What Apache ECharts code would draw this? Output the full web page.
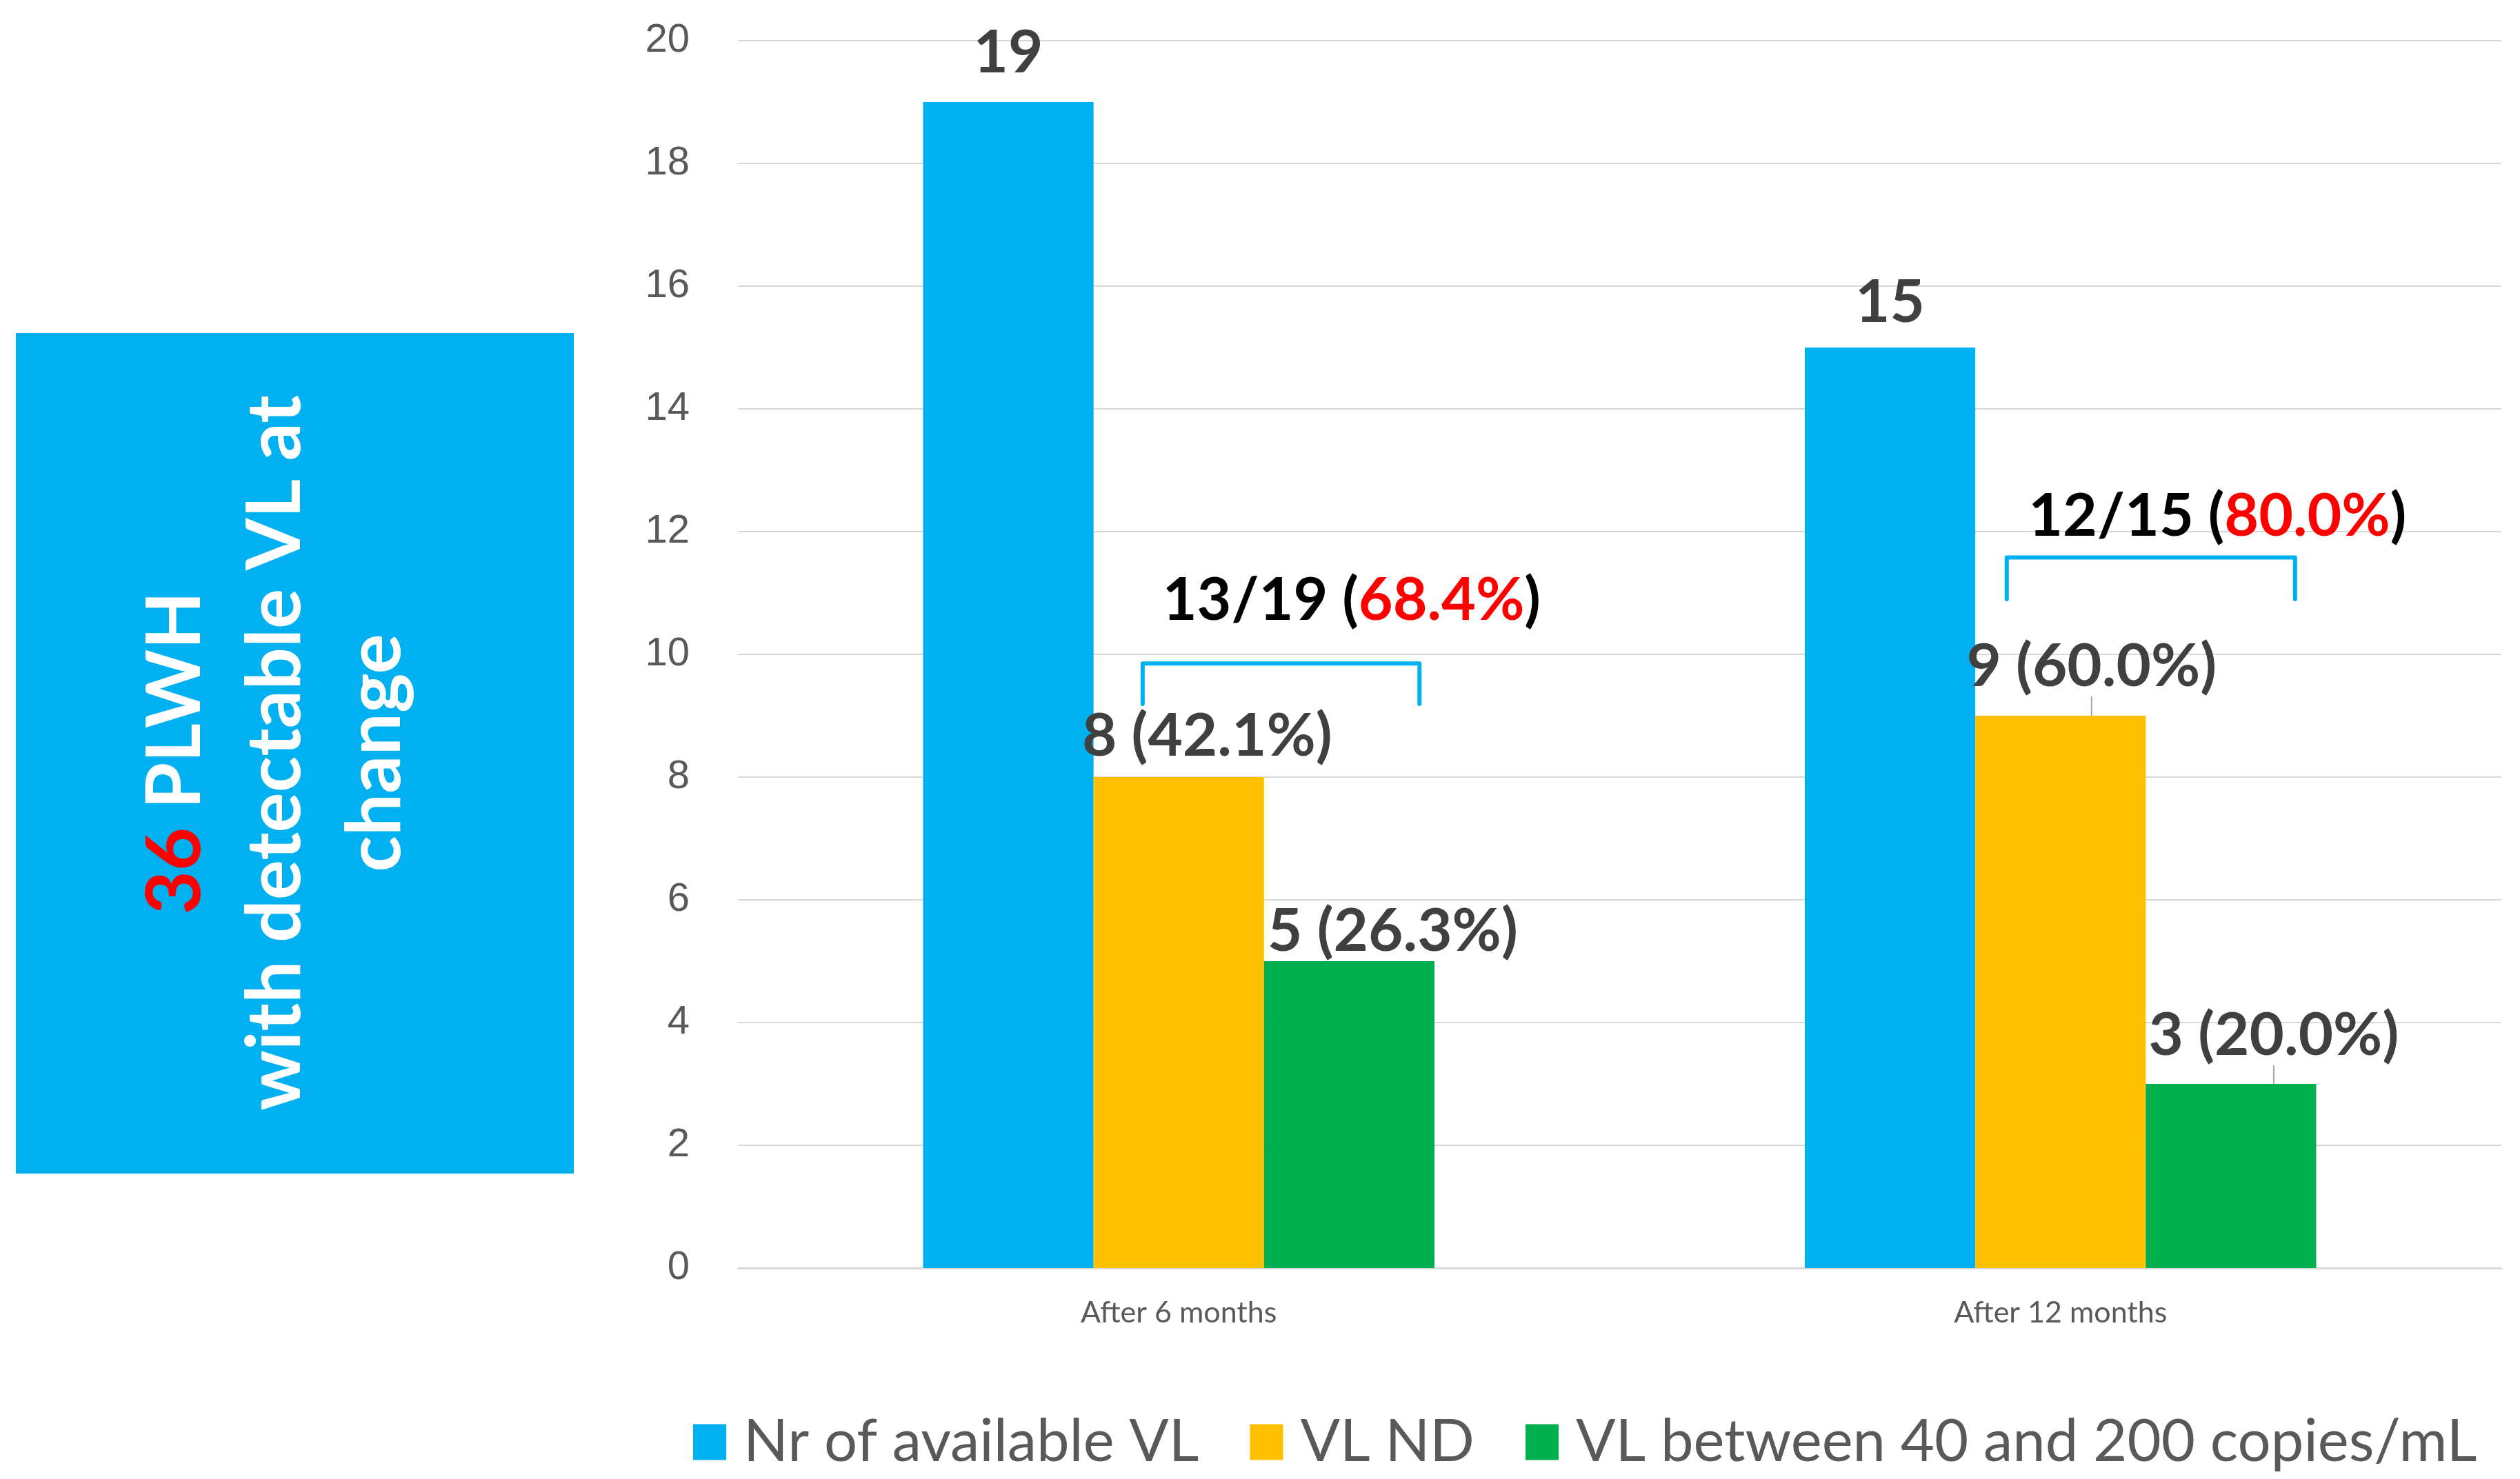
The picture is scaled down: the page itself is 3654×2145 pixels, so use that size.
<!DOCTYPE html>
<html>
<head>
<meta charset="utf-8">
<script src="https://cdn.jsdelivr.net/npm/echarts@6/dist/echarts.min.js"></script>
<style>
  html, body { margin: 0; padding: 0; background: #fff; }
  #chart { width: 3654px; height: 2145px; }
</style>
</head>
<body>
<div id="chart"></div>
<script>
// categories and values
const categories = ['After 6 months', 'After 12 months'];
const seriesNames = ['Nr of available VL', 'VL ND', 'VL between 40 and 200 copies/mL'];
const availableVL = [19, 15];
const ndVL = [8, 9];
const lowVL = [5, 3];
const ndPct = ['42.1%', '60.0%'];
const lowPct = ['26.3%', '20.0%'];
const yTicks = [0, 20, 2]; // min, max, step

// bracket annotations (value units on the y axis)
const bracketTop = [9.85, 11.58];
const bracketFoot = [9.19, 10.9];
const bracketTextAt = [10.87, 12.24];
const bracketRatio = ['13/19', '12/15'];
const bracketPct = ['68.4%', '80.0%'];

// layout tweaks, not data
const bracketSpan = [[-0.041, 0.273, 0.196], [-0.061, 0.266, 0.178]]; // fractions of band width
const labelShift = [
  [[0, -28], [0, -22]],
  [[41, -16], [45, -28]],
  [[63, 0], [62, -27]]
];
const leaderLine = [[false, false], [false, true], [false, true]];

const colors = ['#00b0f0', '#ffc000', '#00b050'];
const labelFont = { fontFamily: 'Lato', fontWeight: 'bold', fontSize: 87, color: '#404040' };

window.onload = function () {
  var chart = echarts.init(document.getElementById('chart'));

  const barData = (vals, s) => vals.map((v, i) => ({
    value: v,
    labelLine: { show: leaderLine[s][i] }
  }));

  const barSeries = (name, vals, s, fmt) => ({
    name: name,
    type: 'bar',
    barGap: '0%',
    barCategoryGap: '42%',
    itemStyle: { color: colors[s] },
    label: Object.assign({
      show: true,
      position: 'top',
      distance: 0,
      formatter: fmt
    }, labelFont),
    labelLayout: (params) => {
      const d = labelShift[s][params.dataIndex];
      return { dx: d[0], dy: d[1] };
    },
    labelLine: {
      show: false,
      lineStyle: { color: '#a6a6a6', width: 2 }
    },
    emphasis: { disabled: true },
    data: barData(vals, s)
  });

  const bracketData = bracketTop.map((t, i) => [i, t, bracketFoot[i], bracketTextAt[i]]);

  var option = {
    animation: false,
    grid: {
      left: 1070,
      right: 27,
      top: 59,
      bottom: 306
    },
    xAxis: {
      type: 'category',
      data: categories,
      axisTick: { show: false },
      axisLine: { lineStyle: { color: '#d9d9d9', width: 3 } },
      axisLabel: {
        fontFamily: 'Lato',
        fontSize: 43,
        color: '#595959',
        margin: 44
      }
    },
    yAxis: {
      type: 'value',
      min: yTicks[0],
      max: yTicks[1],
      interval: yTicks[2],
      axisLine: { show: false },
      axisTick: { show: false },
      axisLabel: {
        fontFamily: 'Liberation Sans',
        fontSize: 58,
        color: '#595959',
        margin: 70
      },
      splitLine: { lineStyle: { color: '#d9d9d9', width: 2 } }
    },
    legend: {
      data: seriesNames,
      left: 1000,
      top: 2044,
      itemWidth: 48,
      itemHeight: 52,
      itemGap: 74,
      icon: 'rect',
      selectedMode: false,
      textStyle: {
        fontFamily: 'Lato',
        fontSize: 85,
        color: '#595959',
        padding: [0, 0, 0, 20]
      }
    },
    graphic: [
      {
        type: 'rect',
        left: 23,
        top: 483,
        shape: { width: 809, height: 1219 },
        style: { fill: '#00b0f0' }
      },
      {
        type: 'text',
        x: 400,
        y: 1092,
        rotation: Math.PI / 2,
        style: {
          text: '{r|36}{w| PLWH}\n{w|with detectable VL at}\n{w|change}',
          align: 'center',
          verticalAlign: 'middle',
          rich: {
            r: { fill: '#ff0000', fontFamily: 'Lato', fontWeight: 'bold', fontSize: 109, lineHeight: 145 },
            w: { fill: '#ffffff', fontFamily: 'Lato', fontWeight: 'bold', fontSize: 109, lineHeight: 145 }
          }
        }
      }
    ],
    series: [
      barSeries(seriesNames[0], availableVL, 0, '{c}'),
      barSeries(seriesNames[1], ndVL, 1, (p) => `${p.value} (${ndPct[p.dataIndex]})`),
      barSeries(seriesNames[2], lowVL, 2, (p) => `${p.value} (${lowPct[p.dataIndex]})`),
      {
        type: 'custom',
        silent: true,
        data: bracketData,
        z: 5,
        renderItem: (params, api) => {
          const i = params.dataIndex;
          const c = api.coord([api.value(0), api.value(1)]);
          const yFoot = api.coord([api.value(0), api.value(2)])[1];
          const yText = api.coord([api.value(0), api.value(3)])[1];
          const band = api.size([1, 0])[0];
          const sp = bracketSpan[i];
          const x0 = c[0] + sp[0] * band;
          const x1 = c[0] + sp[1] * band;
          return {
            type: 'group',
            children: [
              {
                type: 'polyline',
                shape: { points: [[x0, yFoot], [x0, c[1]], [x1, c[1]], [x1, yFoot]] },
                style: { stroke: '#00b0f0', lineWidth: 6, fill: null, lineJoin: 'round', lineCap: 'round' }
              },
              {
                type: 'text',
                x: c[0] + sp[2] * band,
                y: yText,
                style: {
                  text: `{k|${bracketRatio[i]} (}{p|${bracketPct[i]}}{k|)}`,
                  align: 'center',
                  verticalAlign: 'middle',
                  rich: {
                    k: { fill: '#000000', fontFamily: 'Lato', fontWeight: 'bold', fontSize: 86 },
                    p: { fill: '#ff0000', fontFamily: 'Lato', fontWeight: 'bold', fontSize: 86 }
                  }
                }
              }
            ]
          };
        }
      }
    ]
  };

  chart.setOption(option);
};
</script>
</body>
</html>
